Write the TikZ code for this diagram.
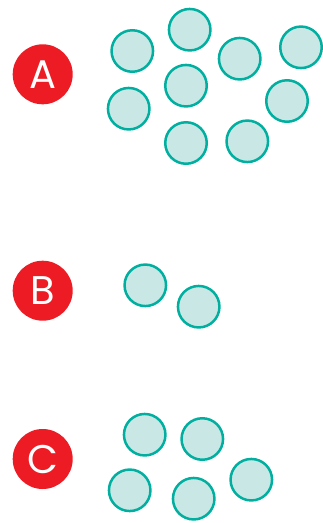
\documentclass[tikz,border=0pt]{standalone}
\usepackage{fontspec}
\newfontfamily\labelfont{Poppins}
\usepackage{tikz}
\usepackage{xcolor}
\definecolor{ballcol}{HTML}{00AFA0}
\definecolor{ballfill}{HTML}{C9E8E5}
\definecolor{tagcol}{HTML}{ED1C24}

\begin{document}
\begin{tikzpicture}[x=1pt, y=-1pt,
    ball/.style={circle, draw=ballcol, fill=ballfill, line width=2.5pt, minimum size=41.5pt, inner sep=0pt},
    tag/.style={circle, fill=tagcol, text=white, minimum size=60pt, inner sep=0pt, font=\labelfont\fontsize{40}{40}\selectfont}]
  \useasboundingbox (0,0) rectangle (323,523);
  % labels
  \node[tag] (tagA) at (42.7,74.3) {A};
  \node[tag] (tagB) at (42.7,290.7) {B};
  \node[tag] (tagC) at (42.7,459) {C};
  % group A
  \foreach \p [count=\i] in {(132.3,51),(189.7,29.7),(239.7,58.7),(301,47.3),(186,85.7),(128.7,108.7),(287,101),(186,143),(247.3,141.3)}
    {\node[ball] (a\i) at \p {};}
  % group B
  \foreach \p [count=\i] in {(145.3,285.3),(198.7,306.7)}
    {\node[ball] (b\i) at \p {};}
  % group C
  \foreach \p [count=\i] in {(144.7,434.7),(202.3,439),(129.7,490.3),(193.7,498.7),(251.3,479.7)}
    {\node[ball] (c\i) at \p {};}
\end{tikzpicture}
\end{document}
